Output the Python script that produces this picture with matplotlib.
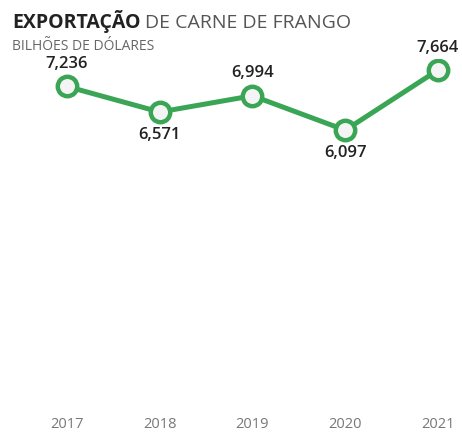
import matplotlib.pyplot as plt

anos = [2017, 2018, 2019, 2020, 2021]
valores = [7.236, 6.571, 6.994, 6.097, 7.664]
rotulos = ['7,236', '6,571', '6,994', '6,097', '7,664']
# posição do rótulo: acima (1) ou abaixo (-1) do ponto
lado = [1, -1, 1, -1, 1]

verde = '#3aa655'

fig = plt.figure(figsize=(4.62, 4.35), dpi=100)
ax = fig.add_axes([0, 0.05, 1, 0.812])

ax.plot(anos, valores, color=verde, linewidth=3.6, marker='o', markersize=14,
        markerfacecolor='#f4f4f4', markeredgecolor=verde, markeredgewidth=3.2,
        solid_capstyle='round', zorder=3)

for ano, valor, rotulo, l in zip(anos, valores, rotulos, lado):
    if l > 0:
        ax.annotate(rotulo, (ano, valor), xytext=(0, 11), textcoords='offset points',
                    ha='center', va='bottom', fontsize=12, fontweight='semibold',
                    color='#222222', family='Open Sans')
    else:
        ax.annotate(rotulo, (ano, valor), xytext=(0, -10), textcoords='offset points',
                    ha='center', va='top', fontsize=12, fontweight='semibold',
                    color='#222222', family='Open Sans')

ax.set_xlim(2016.278, 2021.259)
ax.set_ylim(-1.25, 7.951)
ax.set_xticks(anos)
ax.set_xticklabels([str(a) for a in anos], fontsize=10.5, color='#777777', family='Open Sans')
ax.tick_params(axis='x', length=0, pad=3)
ax.set_yticks([])
for lado_spine in ax.spines.values():
    lado_spine.set_visible(False)

t = fig.text(0.026, 0.935, 'EXPORTAÇÃO', fontsize=14, fontweight='bold', color='#222222',
             family='Open Sans', va='baseline')
fig.canvas.draw()
bb = t.get_window_extent()
fig.text((bb.x1 + 4) / fig.bbox.width, 0.935, 'DE CARNE DE FRANGO', fontsize=14,
         color='#555555', family='Open Sans', va='baseline')
fig.text(0.026, 0.885, 'BILHÕES DE DÓLARES', fontsize=10, color='#666666',
         family='Open Sans', va='baseline')

plt.savefig('out.png', dpi=100)
